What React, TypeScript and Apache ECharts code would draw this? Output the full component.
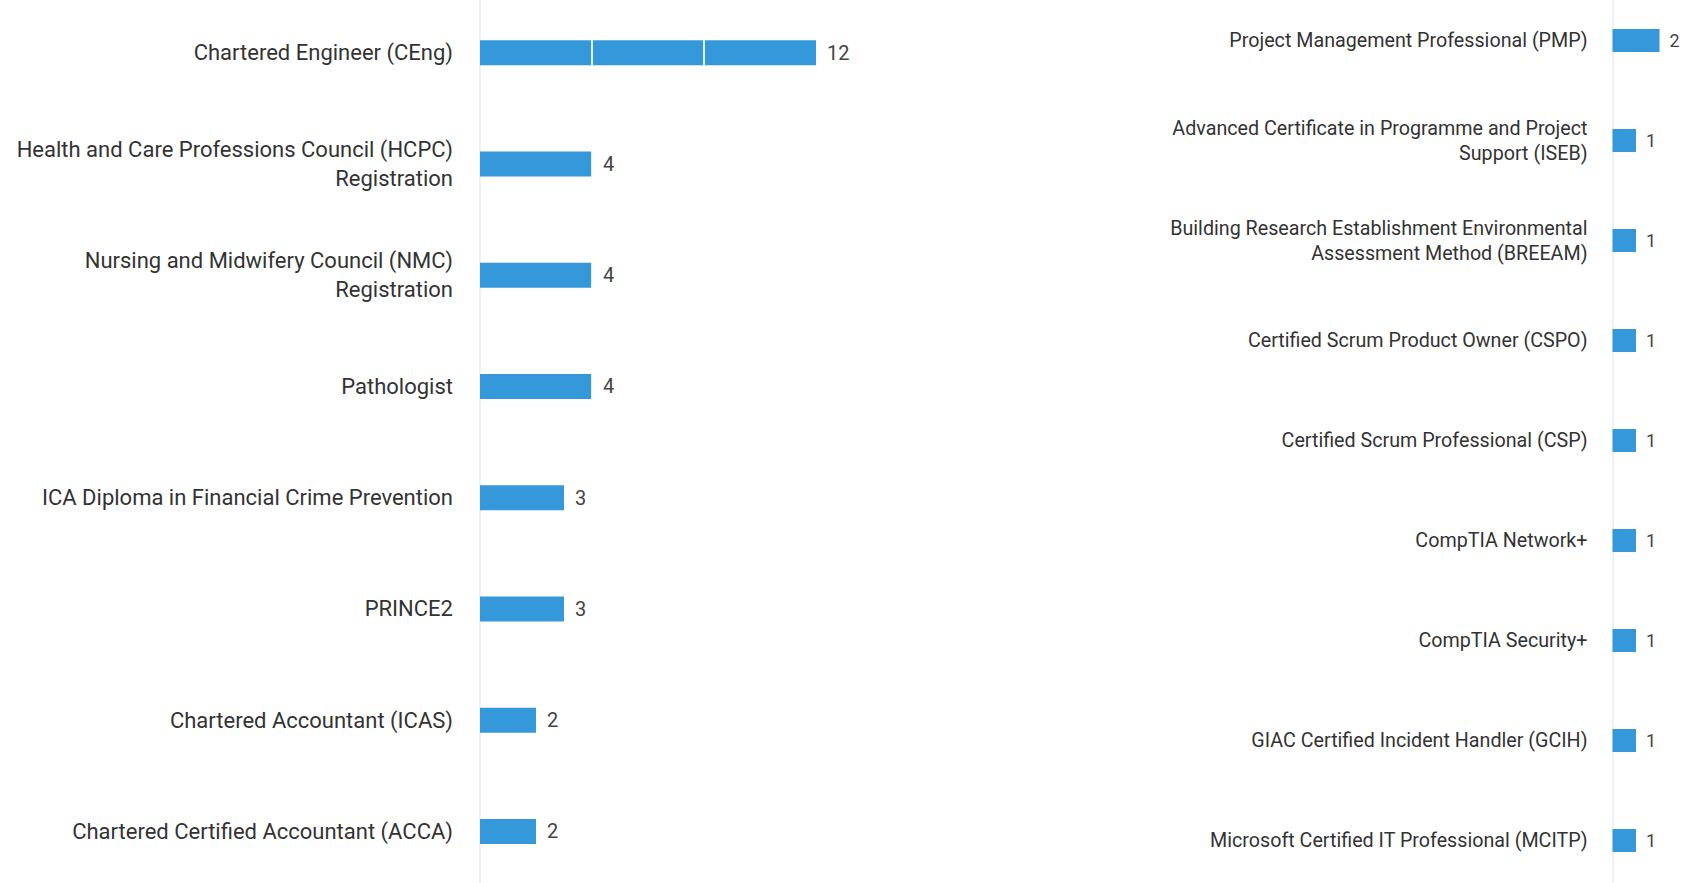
import React, { useEffect, useRef } from "react";
import * as echarts from "echarts";

const leftCategories = [
  "Chartered Engineer (CEng)",
  "Health and Care Professions Council (HCPC) Registration",
  "Nursing and Midwifery Council (NMC) Registration",
  "Pathologist",
  "ICA Diploma in Financial Crime Prevention",
  "PRINCE2",
  "Chartered Accountant (ICAS)",
  "Chartered Certified Accountant (ACCA)",
];
const leftValues = [12, 4, 4, 4, 3, 3, 2, 2];

const rightCategories = [
  "Project Management Professional (PMP)",
  "Advanced Certificate in Programme and Project Support (ISEB)",
  "Building Research Establishment Environmental Assessment Method (BREEAM)",
  "Certified Scrum Product Owner (CSPO)",
  "Certified Scrum Professional (CSP)",
  "CompTIA Network+",
  "CompTIA Security+",
  "GIAC Certified Incident Handler (GCIH)",
  "Microsoft Certified IT Professional (MCITP)",
];
const rightValues = [2, 1, 1, 1, 1, 1, 1, 1, 1];

const dividerTicks = [4, 8];

const BAR = "#3498db";
const FONT = "Roboto";

function makeWrapper(fontSize: number, maxWidth: number) {
  const canvas = document.createElement("canvas");
  const ctx = canvas.getContext("2d");
  return (text: string) => {
    if (!ctx) return text;
    ctx.font = `${fontSize}px ${FONT}`;
    const words = text.split(" ");
    const lines: string[] = [];
    let cur = "";
    for (const w of words) {
      const test = cur ? cur + " " + w : w;
      if (cur && ctx.measureText(test).width > maxWidth) {
        lines.push(cur);
        cur = w;
      } else {
        cur = test;
      }
    }
    if (cur) lines.push(cur);
    return lines.join("\n");
  };
}

export default function App() {
  const ref = useRef<HTMLDivElement>(null);
  useEffect(() => {
    document.body.style.margin = "0";
    if (!ref.current) return;
    const chart = echarts.init(ref.current, undefined, { renderer: "svg" });
    const wrapLeft = makeWrapper(22, 445);
    const wrapRight = makeWrapper(19.7, 440);
    chart.setOption({
      animation: false,
      backgroundColor: "#ffffff",
      textStyle: { fontFamily: FONT },
      grid: [
        { left: 480, top: -3, width: 560, height: 890, outerBoundsMode: "none", containLabel: false },
        { left: 1612.5, top: -9.5, width: 70.5, height: 900, outerBoundsMode: "none", containLabel: false },
      ],
      xAxis: [
        { type: "value", gridIndex: 0, min: 0, max: 20, show: false },
        { type: "value", gridIndex: 1, min: 0, max: 3, show: false },
      ],
      yAxis: [
        {
          type: "category",
          gridIndex: 0,
          inverse: true,
          data: leftCategories,
          axisLine: { show: true, lineStyle: { color: "#f0f1f4", width: 2 } },
          axisTick: { show: false },
          splitLine: { show: false },
          axisLabel: {
            margin: 27,
            fontSize: 22,
            lineHeight: 29,
            color: "#333333",
            fontFamily: FONT,
            align: "right",
            formatter: (v: string) => wrapLeft(v),
          },
        },
        {
          type: "category",
          gridIndex: 1,
          inverse: true,
          data: rightCategories,
          axisLine: { show: true, lineStyle: { color: "#f0f1f4", width: 2 } },
          axisTick: { show: false },
          splitLine: { show: false },
          axisLabel: {
            margin: 25,
            fontSize: 19.7,
            lineHeight: 25,
            color: "#333333",
            fontFamily: FONT,
            align: "right",
            formatter: (v: string) => wrapRight(v),
          },
        },
      ],
      series: [
        {
          type: "bar",
          xAxisIndex: 0,
          yAxisIndex: 0,
          data: leftValues,
          barWidth: 25,
          itemStyle: { color: BAR },
          label: {
            show: true,
            position: "right",
            distance: 11,
            fontSize: 20,
            color: "#444444",
            fontFamily: FONT,
          },
          markLine: {
            silent: true,
            symbol: "none",
            label: { show: false },
            lineStyle: { color: "#ffffff", width: 2, type: "solid", opacity: 0.85 },
            data: dividerTicks.map((v) => ({ xAxis: v })),
          },
        },
        {
          type: "bar",
          xAxisIndex: 1,
          yAxisIndex: 1,
          data: rightValues,
          barWidth: 23,
          itemStyle: { color: BAR },
          label: {
            show: true,
            position: "right",
            distance: 10,
            fontSize: 18,
            color: "#444444",
            fontFamily: FONT,
          },
        },
      ],
    });
    return () => chart.dispose();
  }, []);
  return (
    <div
      ref={ref}
      style={{ position: "fixed", left: 0, top: 0, width: 1686, height: 883 }}
    />
  );
}
